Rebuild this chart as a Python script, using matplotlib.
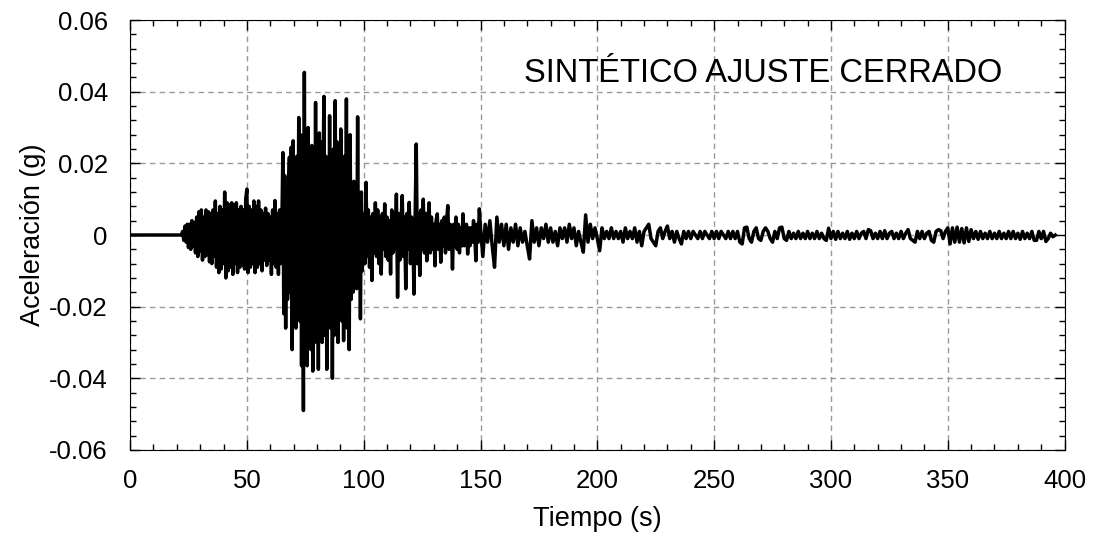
import numpy as np
import matplotlib
matplotlib.use("Agg")
import matplotlib.pyplot as plt
from matplotlib.ticker import MultipleLocator

plt.rcParams['font.family'] = ['Liberation Sans', 'DejaVu Sans']

# accelerations, in milli-g
# quiet start: 0 - 22 s
t_quiet = [0.0, 22.0]
a_quiet = [0.0, 0.0]

# 22 - 65 s, every 0.5 s
t0_a, dt_a = 22.0, 0.5
a_seg_a = [0, 1, -1.5, 2.5, -2, 3, -3.5, 3, -4, 4, -3, 3.5, -5, 5, -6, 6.5, -4.5, 7, -7, 5,
           -6, 7, -5.5, 6.5, -7.5, 6, -8, 7, -6, 9.5, -9, 6, -10.5, 8, -9.5, 7, -8, 12, -12, 9,
           -10, 8.5, -9, 9, -11, 8.5, -8, 9, -10.5, 7, -9, 8, -8.5, 7, -9.5, 10, 12.8, -10.5,
           8, -9, 7, -8, 9.5, -10.5, 8, -9, 9.5, -8, 7, -10, 6, -7, 7.5, -8.5, 6, -7, 5, -11,
           7, -8, 9.6, -9, 6, -11, 7, -8]

# 65 - 99.4 s, every 0.4 s (strong motion)
t0_b, dt_b = 65.0, 0.4
a_seg_b = [4, 23, -22, 16.6, -26, 14, -18, 12, 21.7, -16, 24.5, -32, 26.3, -20, 18, -26, 22, -18,
           32.8, -24, 28, -36.5, 20, -49, 45.4, -30, 29, -36.5, 30, -28, 22, -32, 25, -38, 20,
           -26, 37, -30, 24, -37.5, 28.5, -22, 26, -30, 18, 38.7, -28, 22, -37.5, 20, -24, 33.3,
           -26, 20, -40, 24, -28, 37.5, -22, 26, -30, 18, -20, 29.6, -24, 16, -29.5, 22, -18,
           38, -26, 20, -32, 28, -18, 14, -16, 15, -14, 12, -15, 33, -12, 10, -23.4, 12, -10]

# 100 - 149.5 s, every 0.5 s
t0_c, dt_c = 100.0, 0.5
a_seg_c = [6, -8, 14.7, -6, 7, -9, 5, -12.7, 6, -5, 9, -6, 7, -8, 5, -10.9, 6, -4, 8.7, -6,
           5, -7, 4, -10.9, 7, -5, 6, -4, 11.4, -17.4, 6, -7, 4, 11, -6, 5, -15, 6, -4, 9.1,
           -8, 5, 3, -16.5, 4, 25.4, -8, 6, -11.3, 7, -4, 10, -5, 6, -7.2, 4, 9, -5, 5, -4,
           3, -8.6, 4, 5.9, -4, 3, -7.6, 4, -3, 5, -5, 4, 8.2, -4, 3, 2, -9.5, 3, -3, 5,
           -4, 3, -5, 2, -3, 5.9, -3, 2, 3, -5.3, 2, -3, 2, -2, 4, 1, -7.2, 3, -2, 7.3]

# 150 - 396 s, every 1 s (coda)
t0_d, dt_d = 150.0, 1.0
a_seg_d = [2, -6, 3, -2, 4, -3, -9, 5, -2, 3,
           -3, 3, -4, 2, -2, 3, -3, 2, -2, 1,
           -3, -6.7, 4, -2, 2, -3, 2, -1, 3, -2,
           2, -2, 1, -3, 2, -1, 2, -2, 3, -1,
           2, -3, 1, -2, -4.8, 5.6, -2, 3, -1, 2,
           -1, -4.4, 2, -1, 1, -1, 2, -1, 1, -1,
           1, -2, 2, -1, 1, -1, 2, -2, 1, -3,
           1, 2, 3, -1, -2, -3, 1, 2, -1, 1,
           2.5, -1, 1, -2, 1, -1, -2.5, 1, -1, 1,
           -1, 1, 0, -1, 1, -1, 1, 0, -1, 1,
           -1, 1, -1, 1, 0, -1, 1, -1, 1, -1,
           1, -2, -2.5, 2, 2.2, -1, -2, 1, 2, -1,
           -1.5, 1, 2, 1, -1, -2, 1, -1, 2, 2.2,
           -1, -1.5, 1, -1, 0.5, -1, 1, -1, 0.5, -1,
           1, -1, 0.5, -1, 1, -1, 0.5, -1, -1.5, 1.9,
           -1, 1, -1.2, 1, -1, 0.5, -1, 1, -1.2, 0.5,
           -1, 1, -1, 0.5, 1, -1, 1.5, 1.2, -1, 0.5,
           -1, 1, -1, 1.2, -1, 0.5, 1, -1, 0.5, -1,
           1, -1, 0.5, 1.5, -1, -1.5, -2, 1, -1, 1,
           -1, 0.5, 1, -1.5, -2, 1, 1.5, 1.2, -1, 1,
           2, -2.5, 2, -2, 2.2, -2, 1.8, -2.2, 2, -1.8,
           1.5, -1, 1, -1.2, 1, -1, 0.5, -1, 1, -1,
           0.5, -1, 1, -1, 0.5, -1, 1, -1, 1, -1,
           0.5, -1.2, 1, -1, 0.5, -1, 1, -1.5, -1.5, 1,
           -1, 1, -1.8, -1, 0.5, -0.5, 0]

t = np.concatenate([
    t_quiet,
    t0_a + dt_a * np.arange(len(a_seg_a)),
    t0_b + dt_b * np.arange(len(a_seg_b)),
    t0_c + dt_c * np.arange(len(a_seg_c)),
    t0_d + dt_d * np.arange(len(a_seg_d)),
])
acc = np.concatenate([a_quiet, a_seg_a, a_seg_b, a_seg_c, a_seg_d]) / 1000.0

fig = plt.figure(figsize=(10.93, 5.44), dpi=100)
ax = fig.add_axes([0.119, 0.173, 0.855, 0.79])

ax.plot(t, acc, color='black', lw=2.5)

ax.set_xlim(0, 400)
ax.set_ylim(-0.06, 0.06)
ax.xaxis.set_major_locator(MultipleLocator(50))
ax.xaxis.set_minor_locator(MultipleLocator(10))
ax.yaxis.set_minor_locator(MultipleLocator(0.004))
ax.set_yticks([-0.06, -0.04, -0.02, 0, 0.02, 0.04, 0.06])
ax.set_yticklabels(['-0.06', '-0.04', '-0.02', '0', '0.02', '0.04', '0.06'])

ax.tick_params(which='both', direction='in', top=True, right=True, labelsize=18.5)
ax.tick_params(axis='y', which='major', pad=16)
ax.tick_params(axis='x', which='major', pad=14)
ax.tick_params(which='major', length=7, width=1)
ax.tick_params(which='minor', length=4, width=1)
ax.grid(True, which='major', color='#999999', ls=(0, (4, 3)), lw=1)
ax.set_axisbelow(True)

ax.set_xlabel('Tiempo (s)', fontsize=19.5, labelpad=9)
ax.set_ylabel('Aceleración (g)', fontsize=19.5, labelpad=2)
ax.text(271, 0.0452, 'SINTÉTICO AJUSTE CERRADO', fontsize=23.5, ha='center', va='center')

fig.savefig('out.png', dpi=100)
